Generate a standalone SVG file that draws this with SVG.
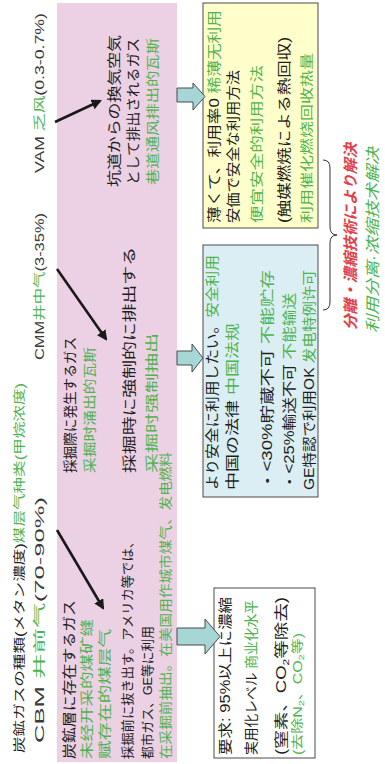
<svg xmlns="http://www.w3.org/2000/svg" width="385" height="764" viewBox="0 0 385 764">
<style>
text{font-family:"Liberation Sans","Noto Sans CJK JP",sans-serif;fill:#1e1e1e}
.g{fill:#4db34d;font-family:"Liberation Sans","Noto Sans CJK SC",sans-serif}
.r{fill:#e0404a}
.lab{fill:#3a3a3a}
.box{stroke:#4a4a4a;stroke-width:1}
.blk{fill:#a6d6d6;stroke:#4a4a4a;stroke-width:1}
.ln{stroke:#1a1a1a;stroke-width:2.6;fill:none;marker-end:url(#ah)}
</style>
<defs>
<marker id="ah" viewBox="0 0 10 10" refX="8" refY="5" markerWidth="4" markerHeight="4" orient="auto" markerUnits="strokeWidth">
<path d="M0,0 L10,5 L0,10 z" fill="#1a1a1a"/>
</marker>
</defs>
<rect width="385" height="764" fill="#ffffff"/>
<g transform="translate(0,764) rotate(-90)">
  <g id="title">
    <text x="11" y="24" font-size="12" textLength="370" lengthAdjust="spacingAndGlyphs"><tspan>炭鉱ガスの種類(メタン濃度)</tspan><tspan class="g">煤层气种类(甲烷浓度)</tspan></text>
  </g>
  <g id="labels">
    <text x="21" y="43.5" font-size="12" class="lab" textLength="246" lengthAdjust="spacingAndGlyphs">CBM <tspan class="g">井前气</tspan>(70-90%)</text>
    <text x="404" y="43.5" font-size="12" class="lab" textLength="147" lengthAdjust="spacingAndGlyphs">CMM<tspan class="g">井中气</tspan>(3-35%)</text>
    <text x="591" y="43.5" font-size="12" class="lab" textLength="160" lengthAdjust="spacingAndGlyphs">VAM <tspan class="g">乏风</tspan>(0.3-0.7%)</text>
  </g>
  <g id="gas-types">
    <rect x="2" y="57" width="759" height="120" fill="#ecd0e3"/>
    <g id="cbm">
      <text x="5" y="74" font-size="14" textLength="159" lengthAdjust="spacingAndGlyphs">炭鉱層に存在するガス</text>
      <text x="5" y="91" font-size="13" class="g" textLength="140" lengthAdjust="spacingAndGlyphs">未经开采的煤矿缝</text>
      <text x="5" y="109" font-size="13" class="g" textLength="130" lengthAdjust="spacingAndGlyphs">赋存在的煤层气</text>
      <text x="5" y="132" font-size="13" textLength="224" lengthAdjust="spacingAndGlyphs">採掘前に抜き出す。アメリカ等では、</text>
      <text x="5" y="152" font-size="13" textLength="133" lengthAdjust="spacingAndGlyphs">都市ガス、GE等に利用</text>
      <text x="5" y="170" font-size="13" class="g" textLength="307" lengthAdjust="spacingAndGlyphs">在采掘前抽出。在美国用作城市煤气、发电燃料</text>
    </g>
    <g id="cmm">
      <text x="291" y="75" font-size="14" textLength="136" lengthAdjust="spacingAndGlyphs">採掘際に発生するガス</text>
      <text x="291" y="94" font-size="13" class="g" textLength="126" lengthAdjust="spacingAndGlyphs">采掘时涌出的瓦斯</text>
      <text x="291" y="134" font-size="14" textLength="226" lengthAdjust="spacingAndGlyphs">採掘時に強制的に排出する</text>
      <text x="291" y="156" font-size="13" class="g" textLength="140" lengthAdjust="spacingAndGlyphs">采掘时强制抽出</text>
    </g>
    <g id="vam">
      <text x="577" y="119" font-size="14" textLength="152" lengthAdjust="spacingAndGlyphs">坑道からの換気空気</text>
      <text x="579" y="138" font-size="14" textLength="147" lengthAdjust="spacingAndGlyphs">として排出されるガス</text>
      <text x="579" y="157" font-size="13" class="g" textLength="147" lengthAdjust="spacingAndGlyphs">巷道通风排出的瓦斯</text>
    </g>
  </g>
  <g id="vam-use">
    <rect x="536" y="203" width="225" height="115" fill="#ffffcc" class="box"/>
    <text x="541" y="219" font-size="14" textLength="213" lengthAdjust="spacingAndGlyphs">薄くて、利用率0 <tspan class="g">稀薄无利用</tspan></text>
    <text x="541" y="238" font-size="14" textLength="153" lengthAdjust="spacingAndGlyphs">安価で安全な利用方法</text>
    <text x="541" y="261" font-size="13" class="g" textLength="158" lengthAdjust="spacingAndGlyphs">便宜安全的利用方法</text>
    <text x="541" y="289" font-size="14" textLength="186" lengthAdjust="spacingAndGlyphs">(触媒燃焼による熱回収)</text>
    <text x="541" y="311" font-size="13" class="g" textLength="170" lengthAdjust="spacingAndGlyphs">利用催化燃烧回收热量</text>
  </g>
  <g id="cmm-use">
    <rect x="267" y="203" width="252" height="115" fill="#dbeef4" class="box"/>
    <text x="274" y="217" font-size="14" textLength="235" lengthAdjust="spacingAndGlyphs">より安全に利用したい。<tspan class="g">安全利用</tspan></text>
    <text x="274" y="237" font-size="14" textLength="167" lengthAdjust="spacingAndGlyphs">中国の法律 <tspan class="g">中国法规</tspan></text>
    <text x="274" y="272" font-size="14" textLength="220" lengthAdjust="spacingAndGlyphs">・&lt;30%貯蔵不可 <tspan class="g">不能贮存</tspan></text>
    <text x="274" y="294" font-size="14" textLength="197" lengthAdjust="spacingAndGlyphs">・&lt;25%輸送不可 <tspan class="g">不能输送</tspan></text>
    <text x="274" y="314" font-size="14" textLength="220" lengthAdjust="spacingAndGlyphs">GE特認で利用OK <tspan class="g">发电特例许可</tspan></text>
  </g>
  <g id="cbm-use">
    <rect x="6" y="214" width="170" height="101" fill="#ffffff" class="box"/>
    <text x="9" y="230" font-size="14" textLength="158" lengthAdjust="spacingAndGlyphs">要求: 95%以上に濃縮</text>
    <text x="9" y="256" font-size="14" textLength="155" lengthAdjust="spacingAndGlyphs">実用化レベル <tspan class="g">商业化水平</tspan></text>
    <text x="9" y="286" font-size="14" textLength="158" lengthAdjust="spacingAndGlyphs">(窒素、CO<tspan font-size="9" dy="3">2</tspan><tspan dy="-3">等除去)</tspan></text>
    <text x="9" y="302" font-size="12" class="g" textLength="122" lengthAdjust="spacingAndGlyphs">(去除N<tspan font-size="8" dy="2">2</tspan><tspan dy="-2">、CO</tspan><tspan font-size="8" dy="2">2</tspan><tspan dy="-2">等)</tspan></text>
  </g>
  <g id="solution">
    <text x="434" y="356" font-size="15" font-style="italic" font-weight="bold" class="r" textLength="187" lengthAdjust="spacingAndGlyphs">分離・濃縮技術により解決</text>
    <text x="431" y="378" font-size="15" font-style="italic" class="g" textLength="186" lengthAdjust="spacingAndGlyphs">利用分离·浓缩技术解决</text>
  </g>
  <g id="connectors">
    <line class="ln" x1="642" y1="55" x2="663" y2="100"/>
    <line class="ln" x1="495" y1="57" x2="425" y2="106"/>
    <line class="ln" x1="234" y1="57" x2="156" y2="103"/>
    <polygon class="blk" points="662,177 662,193 654,193 667.5,205 681,193 676,193 676,177"/>
    <polygon class="blk" points="399,177 399,192 392,192 406,203 420,192 413,192 413,177"/>
    <polygon class="blk" points="119,177 119,205 110,205 127.5,220 145,205 136,205 136,177"/>
    <path d="M454,323 Q454,330 462,330 L521,330 Q529,330 529,337 Q529,330 537,330 L596,330 Q604,330 604,323" fill="none" stroke="#333" stroke-width="1"/>
  </g>
</g>
</svg>
